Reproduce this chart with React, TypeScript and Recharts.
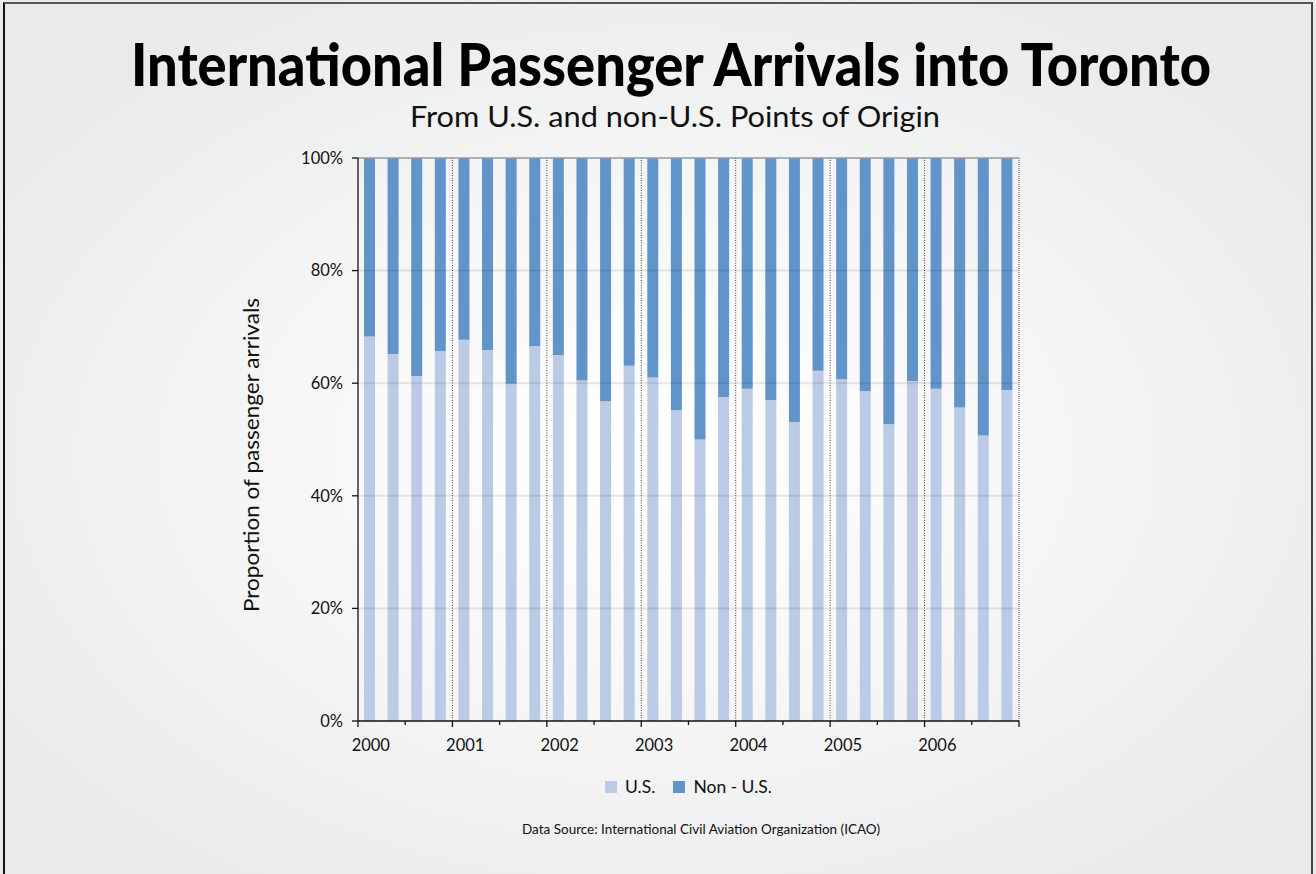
import React from 'react';
import { BarChart, Bar, XAxis, YAxis, ReferenceLine, Legend } from 'recharts';

const years = ['2000', '2001', '2002', '2003', '2004', '2005', '2006'];
const quarters = ['Q1', 'Q2', 'Q3', 'Q4'];
// Share of arrivals from the U.S. (%), one value per quarter
const usShare = [
  68.3, 65.2, 61.3, 65.7,
  67.7, 65.9, 59.9, 66.6,
  65.0, 60.5, 56.8, 63.1,
  61.0, 55.2, 50.0, 57.5,
  59.0, 57.0, 53.1, 62.2,
  60.7, 58.6, 52.7, 60.4,
  59.0, 55.7, 50.7, 58.8,
];
const yTicks = [0, 20, 40, 60, 80, 100];
const gridLevels = [20, 40, 60, 80];
const seriesNames = ['U.S.', 'Non - U.S.'];

const US_COLOR = '#BBCBE6';
const NON_US_COLOR = '#6195C9';
const FONT = 'Lato, "Open Sans", sans-serif';

const data = usShare.map((us, i) => ({
  period: `${years[Math.floor(i / 4)]} ${quarters[i % 4]}`,
  pos: i + 0.5,
  us,
  nonUs: +(100 - us).toFixed(1),
}));

const nQ = usShare.length;
const boundaryTicks: number[] = [];
for (let q = 0; q <= nQ; q += 2) boundaryTicks.push(q);
const labelTicks = years.map((_, i) => i * 4 + 0.5);
const numTicks = [...boundaryTicks, ...labelTicks].sort((a, b) => a - b);
const yearDividers = years.slice(1).map((_, i) => (i + 1) * 4);

const XTick = (props: any) => {
  const { x, y, payload } = props;
  const v = payload.value;
  if (v % 1 !== 0) {
    return (
      <text x={x + 1} y={y + 30} textAnchor="middle" fontSize={16.5} fill="#111" fontFamily={FONT}>
        {years[Math.floor(v / 4)]}
      </text>
    );
  }
  const major = v % 4 === 0;
  return <line x1={x} x2={x} y1={y} y2={y + (major ? 6 : 4)} stroke="#111" strokeWidth={1.3} />;
};

const LegendContent = () => (
  <div style={{ display: 'flex', justifyContent: 'center', alignItems: 'center', fontFamily: FONT, fontSize: 17.5, color: '#111' }}>
    <span style={{ display: 'inline-block', width: 12, height: 12, background: US_COLOR, marginRight: 8 }} />
    <span style={{ marginRight: 18 }}>{seriesNames[0]}</span>
    <span style={{ display: 'inline-block', width: 12, height: 12, background: NON_US_COLOR, marginRight: 8 }} />
    <span>{seriesNames[1]}</span>
  </div>
);

export default function App() {
  return (
    <div
      style={{
        position: 'absolute',
        top: 0,
        left: 0,
        width: 1316,
        height: 874,
        overflow: 'hidden',
        background: 'radial-gradient(ellipse 60% 60% at 50% 52%, #ffffff 0%, #f7f7f7 45%, #e9eaec 100%)',
      }}
    >
      <div
        style={{
          position: 'absolute',
          left: 3,
          top: 2,
          width: 1306,
          height: 900,
          borderLeft: '2px solid #111',
          borderRight: '2px solid #444',
          borderTop: '2px solid #555',
        }}
      />
      <svg width={1316} height={874} style={{ position: 'absolute', left: 0, top: 0 }}>
        <text x={131} y={86} fontSize={59} fontWeight={900} fill="#000" fontFamily={FONT} textLength={1080} lengthAdjust="spacingAndGlyphs">
          International Passenger Arrivals into Toronto
        </text>
        <text x={410} y={127} fontSize={29} fill="#111" fontFamily={FONT} textLength={530} lengthAdjust="spacingAndGlyphs">
          From U.S. and non-U.S. Points of Origin
        </text>
        <text transform="translate(259,455) rotate(-90)" x={0} y={0} textAnchor="middle" fontSize={20.5} fill="#111" fontFamily={FONT} textLength={314} lengthAdjust="spacingAndGlyphs">
          Proportion of passenger arrivals
        </text>
        <text x={522} y={834} fontSize={12.5} fill="#111" fontFamily={FONT} textLength={358} lengthAdjust="spacingAndGlyphs">
          Data Source: International Civil Aviation Organization (ICAO)
        </text>
      </svg>
      <div style={{ position: 'absolute', left: 0, top: 0 }}>
        <BarChart width={1316} height={874} data={data} margin={{ top: 158, right: 297, left: 298, bottom: 123 }}>
          <XAxis xAxisId="cat" dataKey="period" hide height={0} />
          <XAxis
            xAxisId="num"
            dataKey="pos"
            type="number"
            domain={[0, nQ]}
            ticks={numTicks}
            interval={0}
            allowDataOverflow
            height={30}
            tickSize={0}
            tickMargin={0}
            tickLine={false}
            axisLine={{ stroke: '#111', strokeWidth: 1.3 }}
            tick={<XTick />}
          />
          <YAxis
            width={60}
            domain={[0, 100]}
            ticks={yTicks}
            interval={0}
            tickFormatter={(v: number) => `${v}%`}
            tickSize={6}
            tickMargin={9}
            axisLine={{ stroke: '#111', strokeWidth: 1.3 }}
            tickLine={{ stroke: '#111', strokeWidth: 1.3 }}
            tick={{ fontSize: 16.5, fill: '#111', fontFamily: FONT }}
          />
          <Bar xAxisId="cat" dataKey="us" name={seriesNames[0]} stackId="a" fill={US_COLOR} barSize={11} isAnimationActive={false} />
          <Bar xAxisId="cat" dataKey="nonUs" name={seriesNames[1]} stackId="a" fill={NON_US_COLOR} barSize={11} isAnimationActive={false} />
          {gridLevels.map((g) => (
            <ReferenceLine key={g} xAxisId="num" y={g} stroke="rgba(0,0,0,0.09)" strokeWidth={2} />
          ))}
          <ReferenceLine xAxisId="num" y={100} stroke="#999" strokeWidth={1.5} />
          {yearDividers.map((d) => (
            <ReferenceLine key={d} xAxisId="num" x={d} stroke="#444" strokeWidth={1} strokeDasharray="1 1.5" />
          ))}
          <ReferenceLine xAxisId="num" x={nQ} stroke="#888" strokeWidth={1.5} strokeDasharray="1 1" />
          <Legend
            verticalAlign="middle"
            align="center"
            layout="horizontal"
            wrapperStyle={{ position: 'absolute', top: 776, left: 358, width: 661, height: 22 }}
            content={<LegendContent />}
          />
        </BarChart>
      </div>
    </div>
  );
}
